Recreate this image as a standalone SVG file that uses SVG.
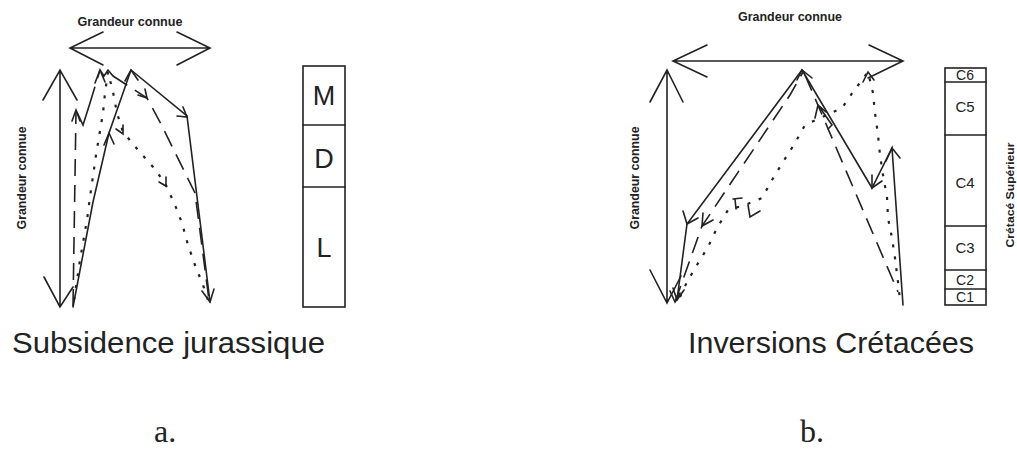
<svg xmlns="http://www.w3.org/2000/svg" width="1017" height="463" viewBox="0 0 1017 463">
<style>
.ln{fill:none;stroke:#222;stroke-width:1.6;stroke-linejoin:miter;stroke-linecap:round}
.da{fill:none;stroke:#222;stroke-width:1.6;stroke-dasharray:17 9}
.do{fill:none;stroke:#222;stroke-width:2.2;stroke-dasharray:3 9}
.box{fill:#fff;stroke:#222;stroke-width:1.6}
.sm{font-family:"Liberation Sans",Arial,sans-serif;font-weight:bold;font-size:12px;fill:#222}
.big{font-family:"Liberation Sans",Arial,sans-serif;font-size:29px;fill:#222}
.col{font-family:"Liberation Sans",Arial,sans-serif;font-size:27px;fill:#222;text-anchor:middle}
.cc{font-family:"Liberation Sans",Arial,sans-serif;font-size:15px;fill:#222;text-anchor:middle}
.ser{font-family:"Liberation Serif","Times New Roman",serif;font-size:32px;fill:#222}
</style>
<rect width="1017" height="463" fill="#fff"/>

<g id="connectors">
  <!-- panel a axes -->
  <path class="ln" d="M70,48 H210 M103,32 L70,48 L103,65 M177,32 L210,48 L177,65"/>
  <path class="ln" d="M60,70 V307 M43,100 L60,70 L77,100 M44,277 L60,307 L73,287"/>
  <!-- panel a solid -->
  <path class="ln" d="M73,307 L93,202 L109,133 L131,70 L187,116 L210,302"/>
  <path class="ln" d="M125,81 L131,70 L138,80 M104,145 L109,133 L114,144 M177,116 L187,117 L183,107 M202,291 L210,302 L214,289"/>
  <!-- panel a dashed -->
  <path class="da" d="M73,306 L76,112"/>
  <path class="ln" d="M72,121 L76,110 L80,121 M76,110 L83,125 L90,103"/>
  <path class="da" d="M90,103 L100,70"/>
  <path class="ln" d="M95,83 L100,70 L105,82 M100,70 L104,76 L108,70 L113,76"/>
  <path class="da" d="M113,76 L147,98 L160,122 L195,193 L209,300"/>
  <path class="ln" d="M138,95 L147,98 L145,89"/>
  <!-- panel a dotted -->
  <path class="do" d="M74,300 L80,260 L87,220 L90,197 L96,155 L103,113 L105,93 L108,72 L113,92 L117,113 L123,132 L138,150 L153,167 L165,183 L175,205 L182,223 L188,245 L195,265 L203,285 L208,300"/>
  <path class="ln" d="M116,129 L123,134 L123,125 M159,182 L166,186 L166,177"/>

  <!-- panel b axes -->
  <path class="ln" d="M673,61 H903 M707,45 L673,61 L707,77 M869,45 L903,61 L868,78"/>
  <path class="ln" d="M667,70 V303 M650,102 L667,70 L683,102 M650,270 L667,303 L681,276"/>
  <!-- panel b solid -->
  <path class="ln" d="M677,300 L687,224 L802,70 L872,188 L892,148 L903,305"/>
  <path class="ln" d="M683,211 L687,224 L698,218 M673,288 L677,300 L684,290 M797,80 L802,70 L812,78 M872,175 L872,188 L882,181 M886,161 L892,148 L900,158"/>
  <!-- panel b dashed -->
  <path class="da" d="M675,302 L702,226 L790,95 L803,72"/>
  <path class="da" d="M805,75 L898,292"/>
  <path class="ln" d="M703,213 L702,226 L713,220 M670,291 L675,302 L680,293 M815,118 L818,105 L826,112 M818,105 L832,125 L828,129"/>
  <!-- panel b dotted -->
  <path class="do" d="M680,297 L687,282 L697,265 L708,247 L717,228 L728,210 L745,205 L762,198 L772,180 L783,162 L795,143 L805,125 L842,108 L853,92 L868,72 L873,93 L875,113 L878,135 L880,155 L883,175 L887,197 L888,218 L892,238 L895,258 L898,282 L900,300"/>
  <path class="ln" d="M733,199 L742,198 M735,199 L736,209 M748,205 L750,217 L760,211 M863,82 L868,72 L874,80"/>
</g>

<g id="label-a-top"><text class="sm" x="130" y="26" text-anchor="middle" textLength="105" lengthAdjust="spacingAndGlyphs">Grandeur connue</text></g>
<g id="label-a-side"><text class="sm" transform="translate(26,178) rotate(-90)" text-anchor="middle" textLength="103" lengthAdjust="spacingAndGlyphs">Grandeur connue</text></g>
<g id="label-b-top"><text class="sm" x="790" y="21" text-anchor="middle" textLength="104" lengthAdjust="spacingAndGlyphs">Grandeur connue</text></g>
<g id="label-b-side"><text class="sm" transform="translate(639,178) rotate(-90)" text-anchor="middle" textLength="103" lengthAdjust="spacingAndGlyphs">Grandeur connue</text></g>
<g id="label-cretace"><text class="sm" style="font-size:11px" transform="translate(1014,195) rotate(-90)" text-anchor="middle" textLength="105" lengthAdjust="spacingAndGlyphs">Crétacé Supérieur</text></g>

<g id="column-a">
  <rect class="box" x="303" y="66" width="42" height="241"/>
  <g id="cell-M"><line class="ln" x1="303" y1="125" x2="345" y2="125"/><text class="col" x="324" y="105">M</text></g>
  <g id="cell-D"><line class="ln" x1="303" y1="187" x2="345" y2="187"/><text class="col" x="324" y="168">D</text></g>
  <g id="cell-L"><text class="col" x="324" y="257">L</text></g>
</g>

<g id="column-b">
  <rect class="box" x="945" y="68" width="41" height="237"/>
  <g id="cell-C6"><line class="ln" x1="945" y1="82" x2="986" y2="82"/><text class="cc" style="font-size:14px" x="965" y="80">C6</text></g>
  <g id="cell-C5"><line class="ln" x1="945" y1="135" x2="986" y2="135"/><text class="cc" x="965" y="112">C5</text></g>
  <g id="cell-C4"><line class="ln" x1="945" y1="226" x2="986" y2="226"/><text class="cc" x="965" y="188">C4</text></g>
  <g id="cell-C3"><line class="ln" x1="945" y1="270" x2="986" y2="270"/><text class="cc" x="965" y="253">C3</text></g>
  <g id="cell-C2"><line class="ln" x1="945" y1="289" x2="986" y2="289"/><text class="cc" style="font-size:14px" x="965" y="285">C2</text></g>
  <g id="cell-C1"><text class="cc" style="font-size:14px" x="965" y="302">C1</text></g>
</g>

<g id="caption-a"><text class="big" x="12" y="353" textLength="313" lengthAdjust="spacingAndGlyphs">Subsidence jurassique</text></g>
<g id="caption-b"><text class="big" x="688" y="353" textLength="286" lengthAdjust="spacingAndGlyphs">Inversions Crétacées</text></g>
<g id="letter-a"><text class="ser" x="154" y="442">a.</text></g>
<g id="letter-b"><text class="ser" x="800" y="442">b.</text></g>
</svg>
